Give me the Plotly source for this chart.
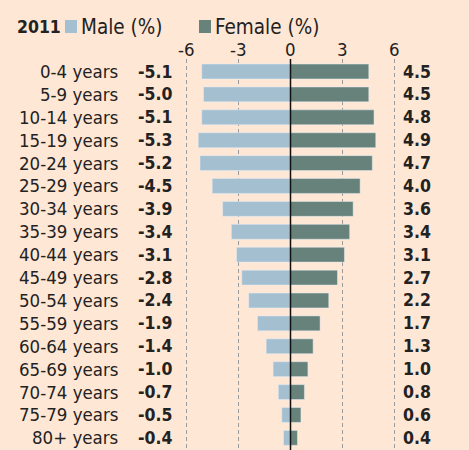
import plotly.graph_objects as go

ages = ["0-4 years", "5-9 years", "10-14 years", "15-19 years", "20-24 years",
        "25-29 years", "30-34 years", "35-39 years", "40-44 years", "45-49 years",
        "50-54 years", "55-59 years", "60-64 years", "65-69 years", "70-74 years",
        "75-79 years", "80+ years"]
male = [-5.1, -5.0, -5.1, -5.3, -5.2, -4.5, -3.9, -3.4, -3.1, -2.8, -2.4, -1.9,
        -1.4, -1.0, -0.7, -0.5, -0.4]
female = [4.5, 4.5, 4.8, 4.9, 4.7, 4.0, 3.6, 3.4, 3.1, 2.7, 2.2, 1.7, 1.3, 1.0,
          0.8, 0.6, 0.4]
tick_vals = [-6, -3, 0, 3, 6]
tick_text = ["-6", "-3", "0", "3", "6"]

W, H = 469, 450
L, R, T, B = 180, 68, 59, 0
PW, PH = W - L - R, H - T - B
XR = [-6.35, 6.35]
YR = [16.53, -0.546]
FONT = "DejaVu Sans Condensed, DejaVu Sans, sans-serif"
TXT = "#222222"
BG = "#FFE7D5"
MALE_C = "#A4BFD0"
FEMALE_C = "#66827B"
LBL = 18.5
VAL = 17.5
LEG = 20.5

def px_x(px):
    return (px - L) / PW

def px_y(py):
    return (H - B - py) / PH

def row_y(i):
    return (YR[0] - i) / (YR[0] - YR[1])

idx = list(range(len(ages)))

fig = go.Figure()
fig.add_trace(go.Bar(y=idx, x=male, orientation="h", marker_color=MALE_C,
                     name="Male (%)", showlegend=False, hoverinfo="skip"))
fig.add_trace(go.Bar(y=idx, x=female, orientation="h", marker_color=FEMALE_C,
                     name="Female (%)", showlegend=False, hoverinfo="skip"))

ann = []
for i, (a, m, f) in enumerate(zip(ages, male, female)):
    ann.append(dict(x=px_x(120), y=row_y(i), xref="paper", yref="paper", text=a, showarrow=False,
                    xanchor="right", yanchor="middle", font=dict(size=LBL, color=TXT, family=FONT)))
    ann.append(dict(x=px_x(174), y=row_y(i), xref="paper", yref="paper", text=f"<b>{m:.1f}</b>", showarrow=False,
                    xanchor="right", yanchor="middle", font=dict(size=VAL, color=TXT, family=FONT)))
    ann.append(dict(x=px_x(401), y=row_y(i), xref="paper", yref="paper", text=f"<b>{f:.1f}</b>", showarrow=False,
                    xanchor="left", yanchor="middle", font=dict(size=VAL, color=TXT, family=FONT)))

for tv, tt in zip(tick_vals, tick_text):
    ann.append(dict(x=tv, y=px_y(49), xref="x", yref="paper", text=tt, showarrow=False,
                    xanchor="center", yanchor="middle", font=dict(size=LBL, color=TXT, family=FONT)))

ann.append(dict(x=px_x(15), y=px_y(27), xref="paper", yref="paper", text="<b>2011</b>",
                showarrow=False, xanchor="left", yanchor="middle",
                font=dict(size=17.5, color=TXT, family=FONT)))
ann.append(dict(x=px_x(79), y=px_y(27), xref="paper", yref="paper", text="Male (%)",
                showarrow=False, xanchor="left", yanchor="middle",
                font=dict(size=LEG, color=TXT, family=FONT)))
ann.append(dict(x=px_x(213), y=px_y(27), xref="paper", yref="paper", text="Female (%)",
                showarrow=False, xanchor="left", yanchor="middle",
                font=dict(size=LEG, color=TXT, family=FONT)))

shapes = [
    dict(type="rect", xref="paper", yref="paper", x0=px_x(65), x1=px_x(77), y0=px_y(33), y1=px_y(20),
         fillcolor=MALE_C, line=dict(width=0)),
    dict(type="rect", xref="paper", yref="paper", x0=px_x(199), x1=px_x(211), y0=px_y(33), y1=px_y(20),
         fillcolor=FEMALE_C, line=dict(width=0)),
    dict(type="line", xref="x", yref="paper", x0=0, x1=0, y0=0, y1=1,
         line=dict(color="#111111", width=1.5), layer="above"),
]

fig.update_layout(
    width=W, height=H, margin=dict(l=L, r=R, t=T, b=B, pad=0),
    paper_bgcolor=BG, plot_bgcolor=BG,
    barmode="overlay", bargap=0.35,
    annotations=ann, shapes=shapes,
    font=dict(family=FONT, size=LBL, color=TXT),
    xaxis=dict(range=XR, side="top", tickvals=tick_vals, showticklabels=False,
               showgrid=True, gridcolor="#9a9a9a", griddash="4px,3px", gridwidth=1,
               zeroline=False, showline=False, ticks="", fixedrange=True),
    yaxis=dict(range=YR, showticklabels=False, showgrid=False,
               zeroline=False, showline=False, fixedrange=True),
)

fig.write_html("out.html", config={"displayModeBar": False},
               post_script="document.body.style.margin='0';document.body.style.overflow='hidden';")
